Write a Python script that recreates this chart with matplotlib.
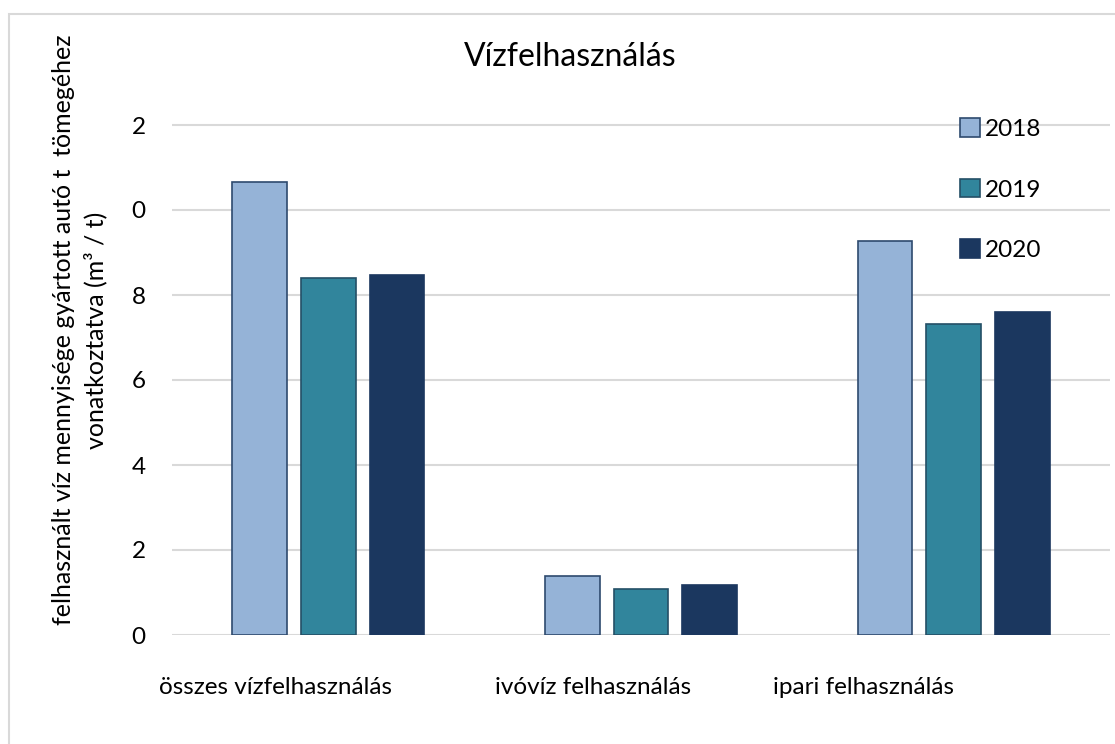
import numpy as np
import matplotlib
matplotlib.use("Agg")
import matplotlib.pyplot as plt
from matplotlib.patches import Rectangle

plt.rcParams['font.family'] = ['Lato', 'DejaVu Sans']

# Data
categories = ["összes vízfelhasználás", "ivóvíz felhasználás", "ipari felhasználás"]
years = ["2018", "2019", "2020"]
values = {
    "2018": [10.65, 1.39, 9.27],
    "2019": [8.40, 1.08, 7.32],
    "2020": [8.47, 1.18, 7.60],
}
ytick_vals = [0, 2, 4, 6, 8, 10, 12]
ytick_labels = ["0", "2", "4", "6", "8", "0", "2"]

colors = {"2018": "#95B3D7", "2019": "#31859C", "2020": "#1B375F"}
edges = {"2018": "#2E4A6E", "2019": "#244F66", "2020": "#1B375F"}
label_pos = [-0.17, 0.846, 1.713]  # category labels sit off-centre in the original

fig = plt.figure(figsize=(11.15, 7.44), dpi=100)
ax = fig.add_axes([172 / 1115, 1 - 635 / 744, (1110 - 172) / 1115, (635 - 99.5) / 744])

x = np.arange(len(categories))
width = 0.175
offsets = [-0.22, 0.0, 0.22]
for yr, off in zip(years, offsets):
    ax.bar(x + off, values[yr], width, color=colors[yr], edgecolor=edges[yr],
           linewidth=1.2, label=yr, zorder=3)

ax.set_xlim(-0.5, 2.5)
ax.set_ylim(0, 12.6)
ax.set_yticks(ytick_vals)
ax.set_yticklabels(ytick_labels, fontsize=17.5)
ax.tick_params(axis='y', length=0, pad=19)
ax.set_xticks([])
ax.grid(axis='y', color='#D9D9D9', linewidth=1.5, zorder=0)
for s in ax.spines.values():
    s.set_visible(False)

for pos, cat in zip(label_pos, categories):
    ax.text(pos, -52 / 42.5, cat, ha='center', va='center', fontsize=17.5)

fig.text(570 / 1115, 1 - 57 / 744, "Vízfelhasználás", ha='center', va='center', fontsize=23)
fig.text(80 / 1115, 1 - 330 / 744,
         "felhasznált víz mennyisége gyártott autó t  tömegéhez\nvonatkoztatva (m³ / t)",
         rotation=90, ha='center', va='center', fontsize=18, multialignment='center',
         linespacing=1.45)

ax.legend(loc='upper left', bbox_to_anchor=(948 / 1115, 1 - 106 / 744),
          bbox_transform=fig.transFigure, frameon=False, fontsize=17.5,
          handlelength=0.8, handleheight=0.8, handletextpad=0.2, labelspacing=1.6,
          borderpad=0)

fig.patches.append(Rectangle((9 / 1115, -0.05), 1.1, (1 - 14 / 744) + 0.05,
                             transform=fig.transFigure, fill=False,
                             edgecolor='#D9D9D9', linewidth=1.5))

fig.savefig("out.png", dpi=100)
